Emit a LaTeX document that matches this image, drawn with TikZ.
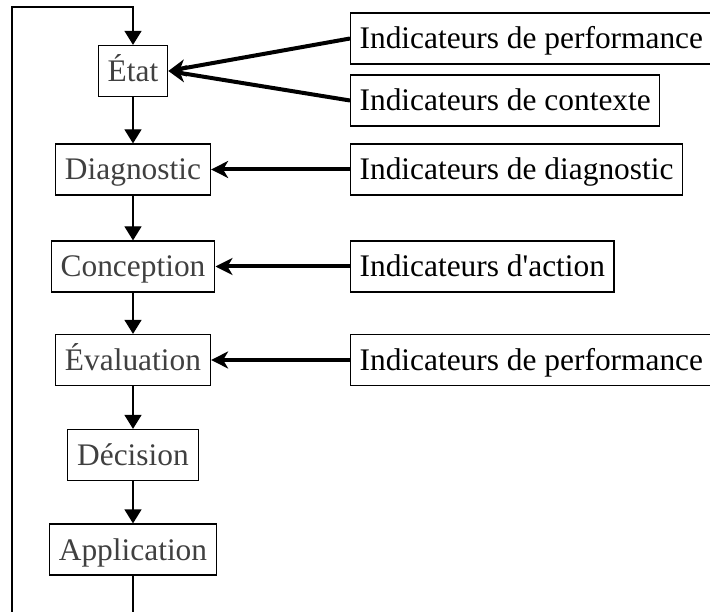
\documentclass[tikz,border=0pt]{standalone}
\usepackage{fontspec}
\setmainfont{Liberation Serif}[Ligatures=TeXOff]
\usetikzlibrary{arrows.meta}
\begin{document}
\begin{tikzpicture}[x=1pt,y=-1pt,
  box/.style={draw, line width=1.2pt, minimum height=51pt, inner xsep=9.5pt, inner ysep=0pt,
    text height=24pt, text depth=3pt, font=\fontsize{31.4}{33}\selectfont, text=black!75},
  ind/.style={box, text=black, anchor=west, inner xsep=9pt},
  flow/.style={line width=1.2pt, -{Triangle[width=17pt,length=14pt]}},
  feed/.style={line width=4pt, -{Stealth[width=17pt,length=17pt,inset=5pt]}}]
\useasboundingbox (0,0) rectangle (710,612);
\clip (0,0) rectangle (710,612);
% main column
\node[box] (etat) at (133,71) {État};
\node[box] (diag) at (133,169.5) {Diagnostic};
\node[box] (conc) at (133,266.5) {Conception};
\node[box] (eval) at (133,360) {Évaluation};
\node[box] (deci) at (133,455) {Décision};
\node[box] (appl) at (133,549.5) {Application};
% indicators
\node[ind] (iperf) at (350,38.5) {Indicateurs de performance};
\node[ind] (icont) at (350,100.5) {Indicateurs de contexte};
\node[ind] (idiag) at (350,169.5) {Indicateurs de diagnostic};
\node[ind] (iact) at (350,266.5) {Indicateurs d'action};
\node[ind] (iperfb) at (350,360) {Indicateurs de performance};
% flow arrows
\draw[flow] (etat) -- (diag);
\draw[flow] (diag) -- (conc);
\draw[flow] (conc) -- (eval);
\draw[flow] (eval) -- (deci);
\draw[flow] (deci) -- (appl);
% feedback loop
\coordinate (b1) at (133,630);
\coordinate (b2) at (12,630);
\coordinate (t1) at (12,7);
\coordinate (t2) at (133,7);
\draw[flow] (appl.south) -- (b1) -- (b2) -- (t1) -- (t2) -- (etat.north);
% indicator arrows
\draw[feed] (iperf.west) -- (etat.east);
\draw[feed] (icont.west) -- (etat.east);
\draw[feed] (idiag.west) -- (diag.east);
\draw[feed] (iact.west) -- (conc.east);
\draw[feed] (iperfb.west) -- (eval.east);
\end{tikzpicture}
\end{document}
